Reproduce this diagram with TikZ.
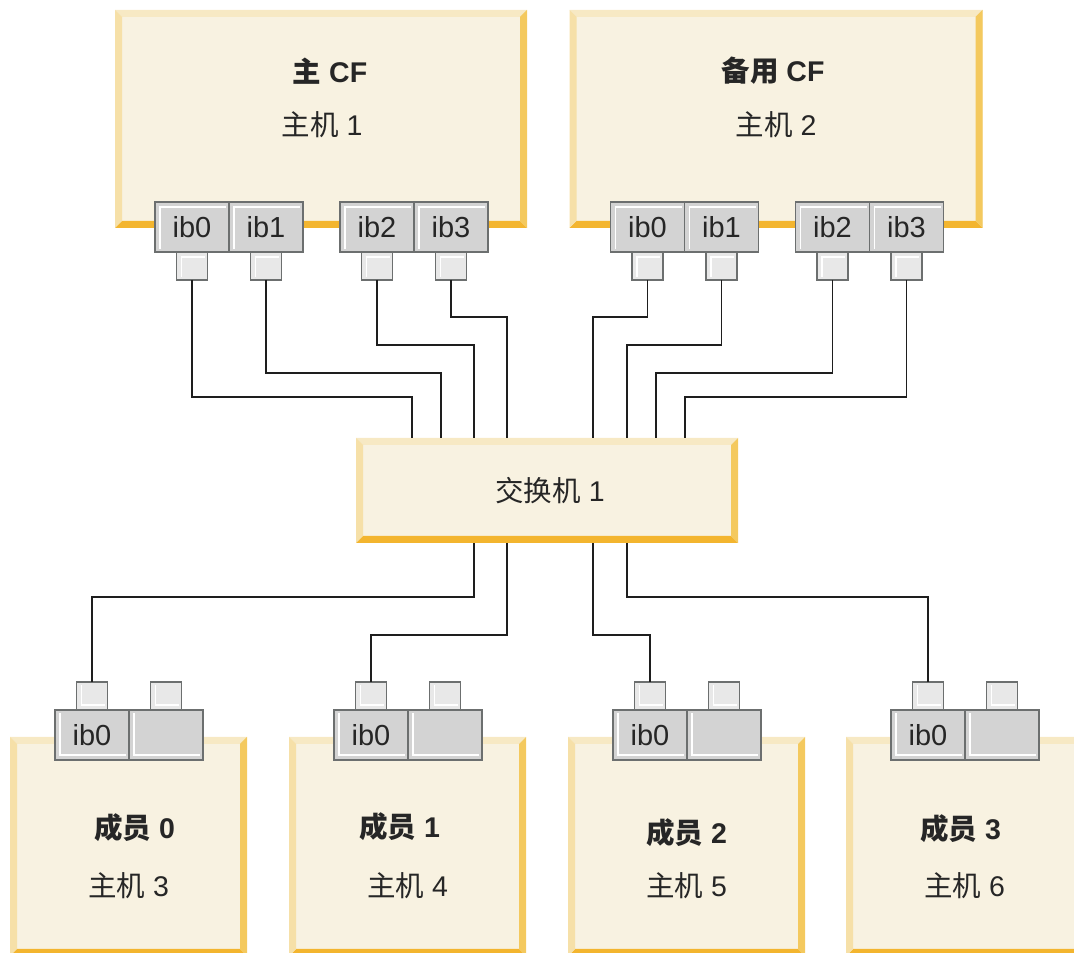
\documentclass[tikz,border=0pt]{standalone}
\usepackage{fontspec}
\setmainfont{Liberation Sans}
\newfontfamily\cjk{Noto Sans CJK SC}
\usetikzlibrary{positioning}

\definecolor{boxfill}{HTML}{F8F2E1}
\definecolor{bevtop}{HTML}{F7E9C4}
\definecolor{bevleft}{HTML}{F6E0A8}
\definecolor{bevright}{HTML}{F4C95E}
\definecolor{bevbot}{HTML}{F3B52F}
\definecolor{portfill}{HTML}{D3D3D3}
\definecolor{plugfill}{HTML}{E8E8E8}
\definecolor{portline}{HTML}{6C6F6F}
\definecolor{cablec}{HTML}{1E1E1E}
\definecolor{textc}{HTML}{262626}

\newcommand{\zh}[1]{{\cjk #1}}
\def\pb{path picture bounding box}

\begin{document}
\begin{tikzpicture}[x=1pt,y=1pt,
	hostbox/.style={inner sep=0pt,outer sep=0pt,fill=boxfill,path picture={
		\fill[bevtop] (\pb.north west) -- (\pb.north east) -- ++(-7,-7) -- ([shift={(7,-7)}]\pb.north west) -- cycle;
		\fill[bevbot] (\pb.south west) -- (\pb.south east) -- ++(-7,7) -- ([shift={(7,7)}]\pb.south west) -- cycle;
		\fill[bevleft] (\pb.north west) -- ++(7,-7) -- ([shift={(7,7)}]\pb.south west) -- (\pb.south west) -- cycle;
		\fill[bevright] (\pb.north east) -- ++(-7,-7) -- ([shift={(-7,7)}]\pb.south east) -- (\pb.south east) -- cycle;}},
	port/.style={draw=portline,line width=1.5pt,fill=portfill,inner sep=0pt,outer sep=0pt,
		minimum width=74pt,minimum height=50pt,font=\fontsize{29}{30}\selectfont,text=textc},
	plug/.style={draw=portline,line width=1.5pt,fill=plugfill,inner sep=0pt,outer sep=0pt,
		minimum width=31pt,minimum height=28pt},
	hi/.style={path picture={\draw[white,line width=1.2pt] ([shift={(5,3)}]\pb.south west) |- ([shift={(-3,-5)}]\pb.north east);}},
	lo/.style={path picture={\draw[white,line width=1.2pt] ([shift={(5,-3)}]\pb.north west) |- ([shift={(-3,5)}]\pb.south east);}},
	cftitle/.style={font=\fontsize{28.5}{33}\selectfont\bfseries,text=textc},
	hostlabel/.style={font=\fontsize{28.5}{33}\selectfont,text=textc},
	cable/.style={draw=cablec,line width=1.5pt}]
\clip (0,0) rectangle (1074,953);

\node[hostbox,minimum width=412,minimum height=218] (cf1) at (321,834) {};
\node[hostbox,minimum width=413,minimum height=218] (cf2) at (776,834) {};
\node[cftitle] (cf1t) at (330,882) {\zh{主} CF};
\node[hostlabel] (cf1h) at (322,828) {\zh{主机} 1};
\node[cftitle] (cf2t) at (773,882) {\zh{备用} CF};
\node[hostlabel] (cf2h) at (776,828) {\zh{主机} 2};

\node[port,hi,anchor=north west] (a0) at ([xshift=40,yshift=26]cf1.south west) {ib0};
\node[port,hi,right=0pt of a0] (a1) {ib1};
\node[port,hi,right=37pt of a1] (a2) {ib2};
\node[port,hi,right=0pt of a2] (a3) {ib3};
\node[port,hi,anchor=north west] (b0) at ([xshift=41,yshift=26]cf2.south west) {ib0};
\node[port,hi,right=0pt of b0] (b1) {ib1};
\node[port,hi,right=37pt of b1] (b2) {ib2};
\node[port,hi,right=0pt of b2] (b3) {ib3};
\foreach \p in {a0,a1,a2,a3,b0,b1,b2,b3}
	\node[plug,hi,below=0pt of \p] (c\p) {};

\node[hostbox,minimum width=382,minimum height=105] (sw) at (547,462.5) {};
\node[hostlabel] (swt) at (550,462) {\zh{交换机} 1};

\foreach \i/\x/\h/\o/\ty in {0/128.5/3/6/125,1/407.5/4/-8/126,2/686.5/5/0/120,3/964.5/6/-4/124}{
	\node[hostbox,minimum width=237,minimum height=219] (m\i) at (\x,106.5) {};
	\node[cftitle] (mt\i) at (\x+\o,\ty) {\zh{成员} \i};
	\node[hostlabel] (mh\i) at (\x,67) {\zh{主机} \h};
	\node[port,lo,anchor=south west] (mp\i) at ([xshift=45,yshift=-23]m\i.north west) {ib0};
	\node[port,lo,right=0pt of mp\i] (mq\i) {};
	\node[plug,lo,above=0pt of mp\i] (mc\i) {};
	\node[plug,lo,above=0pt of mq\i] (md\i) {};
}

\foreach \s/\l/\d in {a0/556/56,a1/580/85,a2/608/118,a3/636/151,b0/636/237,b1/608/271,b2/580/300,b3/556/329}
	\draw[cable] (c\s.south) -- (c\s.south |- 0,\l) -| ([xshift=\d]sw.north west);
\foreach \t/\l/\d in {mc0/356/118,mc1/318/151,mc2/318/237,mc3/356/271}
	\draw[cable] (\t.north) -- (\t.north |- 0,\l) -| ([xshift=\d]sw.south west);
\end{tikzpicture}
\end{document}
